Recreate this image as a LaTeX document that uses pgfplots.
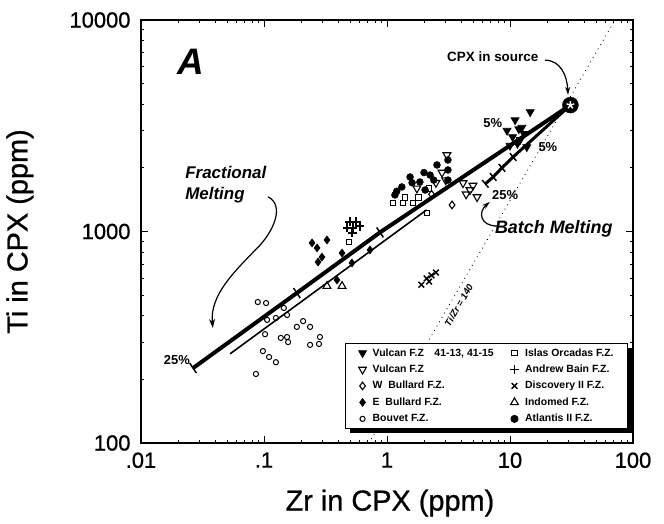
\documentclass[border=0pt]{standalone}
\usepackage{pgfplots}
\pgfplotsset{compat=1.18}
\usepackage{fontspec}
\setmainfont{Liberation Sans}
\newfontfamily\heavysans[FakeBold=0.8]{Liberation Sans}
\usetikzlibrary{arrows.meta,shadows}

\begin{document}
\begin{tikzpicture}
\useasboundingbox (-141bp,-81bp) rectangle (523bp,443bp);
\begin{axis}[
  at={(0,0)}, anchor=south west,
  scale only axis, width=492bp, height=423bp,
  xmode=log, ymode=log,
  xmin=0.01, xmax=100, ymin=100, ymax=10000,
  xtick={0.01,0.1,1,10,100}, xticklabels={.01,.1,1,10,100},
  ytick={100,1000,10000}, yticklabels={100,1000,10000},
  ticklabel style={font=\heavysans\fontsize{22}{22}\selectfont},
  xticklabel style={yshift=-6bp},
  yticklabel style={xshift=-7bp},
  axis line style={line width=1.4bp},
  major tick length=7bp, minor tick length=3.5bp,
  every tick/.style={black, line width=0.9bp},
  xlabel={Zr in CPX (ppm)}, ylabel={Ti in CPX (ppm)},
  label style={font=\heavysans\fontsize{29}{29}\selectfont},
  xlabel style={at={(axis description cs:0.506,-0.142)}, anchor=center},
  ylabel style={at={(axis description cs:-0.246,0.5)}, anchor=center},
  clip=false,
  legend columns=5, transpose legend, legend cell align=left,
  legend style={at={(axis description cs:0.415,0.237)}, anchor=north west,
    draw=black, line width=1bp, fill=white,
    drop shadow={shadow xshift=4.5bp, shadow yshift=-4.5bp, fill=black, opacity=1},
    font=\bfseries\fontsize{10.5}{12}\selectfont,
    nodes={inner sep=1.2bp}, row sep=5bp, inner xsep=13bp, inner ysep=4bp,
    /tikz/every odd column/.append style={column sep=5bp},
    /tikz/every even column/.append style={column sep=15bp}},
]

% Ti/Zr = 140 reference line
\addplot[forget plot, black, line width=1.2bp, dash pattern=on 0.01bp off 5bp, line cap=round]
  coordinates {(0.714,100) (71.4,10000)};

% model melting curves
\addplot[forget plot, black, line width=4bp, mark=|, mark size=6bp,
  mark options={line width=1.5bp, rotate=34}, mark indices={1,2,3}]
  coordinates {(0.0265,226) (0.185,512) (0.877,990) (31,3960)};
\addplot[forget plot, black, line width=1.6bp]
  coordinates {(0.053,264) (2.1,1265)};
\addplot[forget plot, black, line width=3bp, mark=|, mark size=5bp,
  mark options={line width=1.5bp, rotate=40}, mark indices={1,2,3,4}]
  coordinates {(6.3,1680) (7.3,1810) (8.6,2000) (10.6,2250) (31,3960)};

% sample groups
\addplot[only marks, mark=triangle*, mark size=4.5bp, mark options={rotate=180, fill=black, line width=0.8bp}]
  coordinates {(9.46,3000) (11.0,3365) (12.1,2712) (13.7,2509) (14.6,3673)
  (10.5,2800) (12.5,3100) (11.5,2600) (10.0,2550) (13.0,2900) (11.8,3050)};
\addlegendentry{Vulcan F.Z\quad 41-13, 41-15}
\addplot[only marks, mark=triangle, mark size=4.5bp, mark options={rotate=180, fill=white, line width=1.1bp}]
  coordinates {(3.07,2300) (4.15,1695) (4.73,1571) (5.40,1456) (4.4,1500)
  (5.0,1650) (2.8,1900) (3.0,1750) (2.5,1700) (1.75,1600)};
\addlegendentry{Vulcan F.Z}
\addplot[only marks, mark=diamond, mark size=3.8bp, mark options={fill=white, line width=1.1bp}]
  coordinates {(3.38,1335) (2.3,1500)};
\addlegendentry{W~~Bullard F.Z.}
\addplot[only marks, mark=diamond*, mark size=3.8bp, mark options={fill=black, line width=0.8bp}]
  coordinates {(0.246,883) (0.270,836) (0.325,912) (0.296,757) (0.275,717)
  (0.431,791) (0.519,710) (0.728,818) (0.392,590)};
\addlegendentry{E~~Bullard F.Z.}
\addplot[only marks, mark=o, mark size=2.6bp, mark options={line width=1bp}]
  coordinates {(0.089,464) (0.104,459) (0.145,435) (0.154,403) (0.106,382)
  (0.125,390) (0.208,377) (0.185,354) (0.237,354) (0.102,327) (0.137,314)
  (0.154,317) (0.157,300) (0.285,317) (0.280,294) (0.237,291) (0.098,272)
  (0.110,255) (0.125,241) (0.086,212)};
\addlegendentry{Bouvet F.Z.}
\addplot[only marks, mark=square, mark size=2.8bp, mark options={fill=white, line width=1bp}]
  coordinates {(1.12,1364) (1.35,1364) (1.63,1364) (2.11,1223) (1.4,1450)
  (1.8,1450) (2.2,1600) (0.49,892)};
\addlegendentry{Islas Orcadas F.Z.}
\addplot[only marks, mark=+, mark size=4.5bp, mark options={line width=1.4bp}]
  coordinates {(0.50,1109) (0.56,1109) (0.473,1039) (0.529,1039) (0.603,1061) (0.52,984)};
\addlegendentry{Andrew Bain F.Z.}
\addplot[only marks, mark=x, mark size=4bp, mark options={line width=1.4bp}]
  coordinates {(1.9,560) (2.1,600) (2.3,620) (2.5,640) (2.2,580)};
\addlegendentry{Discovery II F.Z.}
\addplot[only marks, mark=triangle, mark size=4.5bp, mark options={fill=white, line width=1.1bp}]
  coordinates {(0.325,552) (0.431,552)};
\addlegendentry{Indomed F.Z.}
\addplot[only marks, mark=*, mark size=3.5bp, mark options={fill=black}]
  coordinates {(2.55,2063) (1.54,1810) (1.32,1624) (1.6,1700) (2.0,1900)
  (1.2,1550) (2.4,1750) (3.13,2178) (3.13,1954) (3.13,1751) (2.24,1849)
  (1.85,1714) (1.16,1489) (2.04,1571)};
\addlegendentry{Atlantis II F.Z.}

% source composition
\addplot[forget plot, only marks, mark=*, mark size=8bp, mark options={fill=black}]
  coordinates {(31,3960)};
\addplot[forget plot, only marks, mark=star, mark size=4bp, mark options={white, line width=1.4bp}]
  coordinates {(31,3960)};

% annotations
\node[font=\bfseries\itshape\fontsize{37}{37}\selectfont] at (axis description cs:0.102,0.901) {A};
\node[font=\bfseries\fontsize{13.5}{14}\selectfont] at (axis description cs:0.715,0.913) {CPX in source};
\node[font=\bfseries\itshape\fontsize{17}{21}\selectfont, align=left, anchor=north west]
  at (axis description cs:0.083,0.663) {Fractional\\Melting};
\node[font=\bfseries\itshape\fontsize{18}{18}\selectfont] at (axis description cs:0.839,0.506) {Batch Melting};
\node[font=\bfseries\fontsize{13}{13}\selectfont] at (axis description cs:0.715,0.757) {5\%};
\node[font=\bfseries\fontsize{13}{13}\selectfont] at (axis description cs:0.827,0.700) {5\%};
\node[font=\bfseries\fontsize{13}{13}\selectfont] at (axis description cs:0.740,0.586) {25\%};
\node[font=\bfseries\fontsize{13}{13}\selectfont] at (axis description cs:0.073,0.196) {25\%};
\node[font=\bfseries\itshape\fontsize{9.5}{9.5}\selectfont, rotate=60] at (axis description cs:0.646,0.326) {Ti/Zr = 140};

\draw[line width=1.2bp, -{Stealth[length=9bp,width=6bp]}] (axis description cs:0.258,0.582)
  .. controls (axis description cs:0.292,0.563) and (axis description cs:0.272,0.500) .. (axis description cs:0.232,0.456)
  .. controls (axis description cs:0.190,0.405) and (axis description cs:0.140,0.350) .. (axis description cs:0.146,0.272);
\draw[line width=1.2bp, -{Stealth[length=8bp,width=5bp]}] (axis description cs:0.724,0.513)
  .. controls (axis description cs:0.689,0.513) and (axis description cs:0.685,0.546) .. (axis description cs:0.709,0.570);
\draw[line width=1.2bp, -{Stealth[length=8bp,width=5bp]}] (axis description cs:0.821,0.905)
  .. controls (axis description cs:0.852,0.905) and (axis description cs:0.866,0.870) .. (axis description cs:0.868,0.823);
\end{axis}
\end{tikzpicture}
\end{document}
